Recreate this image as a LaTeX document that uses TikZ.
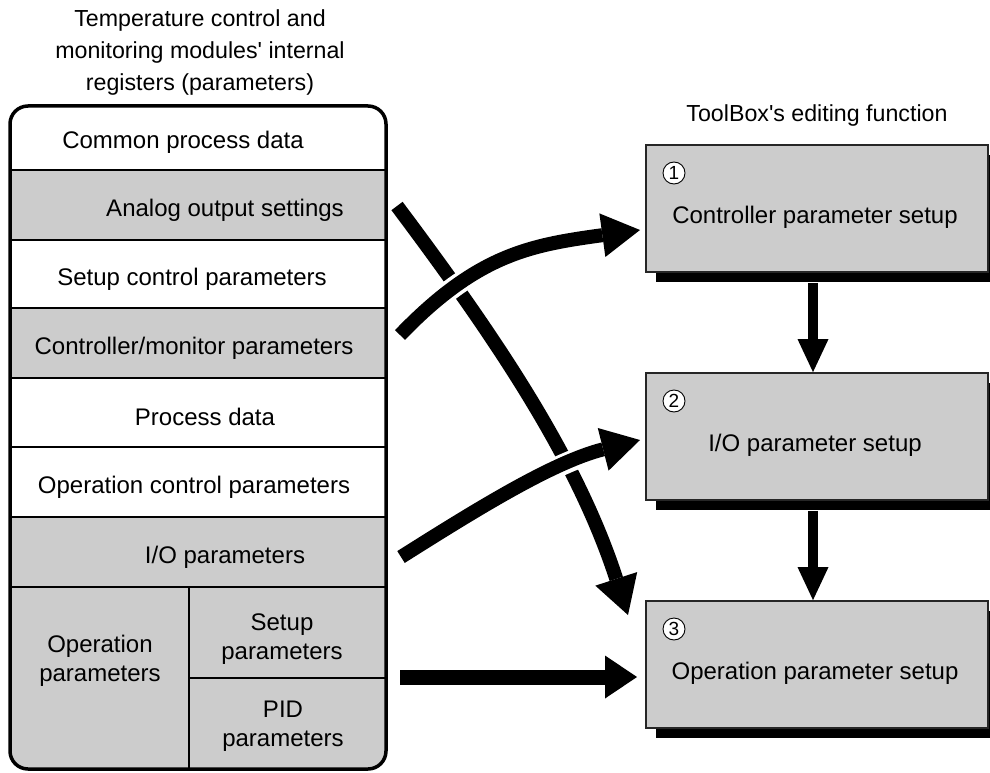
\documentclass[tikz,border=0pt]{standalone}
\usepackage{fontspec}
\newfontfamily\arialf{Liberation Sans}
\usetikzlibrary{arrows.meta,shadows}
\definecolor{boxgray}{HTML}{CCCCCC}
\begin{document}
\begin{tikzpicture}[x=1pt,y=-1pt,
  lbl/.style={font=\arialf\fontsize{24}{29}\selectfont, align=center, inner sep=0},
  hdr/.style={font=\arialf\fontsize{23.2}{32}\selectfont, align=center, inner sep=0},
  fatarrow/.style={line width=14pt, -{Triangle[length=38pt,width=44pt,line width=0pt]}},
  halo/.style={line width=21pt, white, shorten >=30pt},
  varrow/.style={line width=10pt, -{Triangle[length=33pt,width=31pt,line width=0pt]}},
  procbox/.style={draw=black!85, line width=1.8pt, fill=boxgray, minimum width=342pt, minimum height=127pt, inner sep=0,
     drop shadow={shadow xshift=10pt, shadow yshift=-10pt, fill=black, opacity=1}},
  num/.style={circle, draw, fill=white, line width=0.9pt, minimum size=22pt, inner sep=0, font=\arialf\fontsize{19}{19}\selectfont},
  rowsep/.style={line width=2pt},
  thinsep/.style={line width=1.4pt}
]
\useasboundingbox (0,0) rectangle (990,773);

% headers
\node[hdr] (hL) at (200,53) {Temperature control and\\monitoring modules' internal\\registers (parameters)};
\node[hdr] (hR) at (817,116) {ToolBox's editing function};

% left register box
\begin{scope}
  \clip[rounded corners=18pt] (10,106) rectangle (386,769);
  \fill[boxgray] (10,170) rectangle (386,240);
  \fill[boxgray] (10,308) rectangle (386,378);
  \fill[boxgray] (10,517) rectangle (386,769);
\end{scope}
\foreach \yy in {170,240,308,378,447,517,587} \draw[rowsep] (10,\yy) -- (386,\yy);
\draw[thinsep] (189,587) -- (189,769);
\draw[thinsep] (189,678) -- (386,678);
\draw[line width=3.5pt, rounded corners=18pt] (10,106) rectangle (386,769);

\node[lbl] (r1) at (183,142) {Common process data};
\node[lbl] (r2) at (225,210) {Analog output settings};
\node[lbl] (r3) at (192,279) {Setup control parameters};
\node[lbl] (r4) at (194,348) {Controller/monitor parameters};
\node[lbl] (r5) at (205,417) {Process data};
\node[lbl] (r6) at (194,487) {Operation control parameters};
\node[lbl] (r7) at (225,557) {I/O parameters};
\node[lbl] (r8) at (100,661) {Operation\\parameters};
\node[lbl] (r9) at (282,639) {Setup\\parameters};
\node[lbl] (r10) at (283,726) {PID\\parameters};

% right boxes
\node[procbox] (b1) at (817,208.5) {};
\node[procbox] (b2) at (817,436.5) {};
\node[procbox] (b3) at (817,664.5) {};
\node[lbl] (t1) at (815,217) {Controller parameter setup};
\node[lbl] (t2) at (815,445) {I/O parameter setup};
\node[lbl] (t3) at (815,673) {Operation parameter setup};
\node[num] (n1) at (674,173) {1};
\node[num] (n2) at (674,401) {2};
\node[num] (n3) at (674,629) {3};

% vertical arrows
\draw[varrow] ([xshift=-4pt,yshift=-10pt]b1.south) -- ([xshift=-4pt]b2.north);
\draw[varrow] ([xshift=-4pt,yshift=-10pt]b2.south) -- ([xshift=-4pt]b3.north);

% crossing arrows
\coordinate (aS) at (397,206);
\coordinate (aE) at (628,615);
\coordinate (bS) at (400,335);
\coordinate (bE) at (640,230);
\coordinate (cS) at (401,557);
\coordinate (cE) at (640,440);
\coordinate (dS) at (400,677);
\coordinate (dE) at (637,677);

\draw[fatarrow] (aS) .. controls (496,338) and (577,458) .. (aE);
\draw[halo] (bS) .. controls (478,254) and (531,245) .. (bE);
\draw[fatarrow] (bS) .. controls (478,254) and (531,245) .. (bE);
\draw[halo] (cS) .. controls (477,509) and (553,462) .. (cE);
\draw[fatarrow] (cS) .. controls (477,509) and (553,462) .. (cE);
\draw[line width=15pt, -{Triangle[length=32pt,width=43pt,line width=0pt]}] (dS) -- (dE);
\end{tikzpicture}
\end{document}
